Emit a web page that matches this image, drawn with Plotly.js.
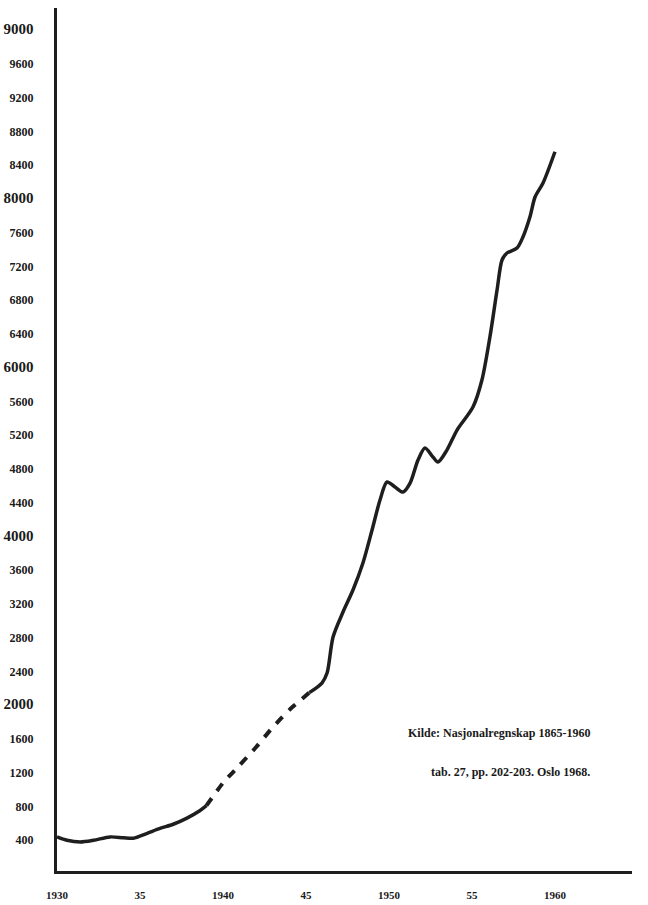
<!DOCTYPE html>
<html>
<head>
<meta charset="utf-8">
<script src="https://cdn.plot.ly/plotly-3.0.1.min.js"></script>
<style>html,body{margin:0;padding:0;background:#fff}#chart{width:648px;height:905px}</style>
</head>
<body>
<div id="chart"></div>
<script>
// Solid segment before the war
const yearsPre = [1930, 1930.6, 1931.4, 1932.2, 1933.2, 1934.0, 1934.6, 1935.4, 1936.2, 1937.0, 1937.8, 1938.6, 1939.0];
const valuesPre = [440, 400, 380, 400, 440, 430, 425, 480, 540, 590, 660, 750, 810];
// Dashed (interpolated war years) segment
const yearsWar = [1939.0, 1940.0, 1941.0, 1942.0, 1943.0, 1944.0, 1945.2];
const valuesWar = [810, 1080, 1290, 1505, 1740, 1945, 2150];
// Solid post-war segment
const yearsPost = [1945.2, 1945.96, 1946.27, 1946.63, 1947.23, 1947.83, 1948.43, 1948.98, 1949.46, 1949.88, 1950.36, 1950.84, 1951.27, 1951.75, 1952.17, 1952.65, 1952.95, 1953.49, 1954.10, 1955.06, 1955.60, 1956.08, 1956.51, 1956.81, 1957.11, 1957.71, 1958.07, 1958.49, 1958.80, 1959.28, 1960.0];
const valuesPost = [2150, 2264, 2382, 2809, 3105, 3366, 3686, 4077, 4433, 4646, 4587, 4527, 4634, 4907, 5049, 4942, 4883, 5025, 5262, 5535, 5855, 6364, 6921, 7277, 7360, 7419, 7550, 7787, 8024, 8190, 8560];

const yTickVals = [400,800,1200,1600,2000,2400,2800,3200,3600,4000,4400,4800,5200,5600,6000,6400,6800,7200,7600,8000,8400,8800,9200,9600,10000];
const yTickLabels = ['400','800','1200','1600','2000','2400','2800','3200','3600','4000','4400','4800','5200','5600','6000','6400','6800','7200','7600','8000','8400','8800','9200','9600','9000'];
const xTickVals = [1930,1935,1940,1945,1950,1955,1960];
const xTickLabels = ['1930','35','1940','45','1950','55','1960'];
const sourceLines = ['Kilde: Nasjonalregnskap 1865-1960', 'tab. 27, pp. 202-203. Oslo 1968.'];

const yTickText = yTickLabels.map((t, i) => yTickVals[i] % 2000 === 0
  ? '<span style="font-size:15px">' + t + '</span>' : t);

const lineColor = '#1e1e1e';
const traces = [
  {x: yearsPre, y: valuesPre, mode: 'lines', line: {color: lineColor, width: 3.5, shape: 'spline', smoothing: 0.8}},
  {x: yearsWar, y: valuesWar, mode: 'lines', line: {color: lineColor, width: 4, dash: '9px,9px', shape: 'spline', smoothing: 0.5}},
  {x: yearsPost, y: valuesPost, mode: 'lines', line: {color: lineColor, width: 3.5, shape: 'spline', smoothing: 0.8}}
];

const fnt = {family: '"Liberation Serif", "DejaVu Serif", serif', size: 12, color: '#1a1a1a', weight: 'bold'};
const xfnt = Object.assign({}, fnt, {size: 11});

const layout = {
  width: 648, height: 905,
  margin: {l: 57, r: 16, t: 8, b: 34},
  paper_bgcolor: '#ffffff', plot_bgcolor: '#ffffff',
  showlegend: false,
  font: fnt,
  xaxis: {
    range: [1930, 1964.64], tickmode: 'array', tickvals: xTickVals, ticktext: xTickLabels,
    showgrid: false, zeroline: false, showline: true, linecolor: lineColor, linewidth: 3,
    ticks: '', ticklabelstandoff: 12, tickfont: xfnt, fixedrange: true
  },
  yaxis: {
    range: [36, 10264], tickmode: 'array', tickvals: yTickVals, ticktext: yTickText,
    showgrid: false, zeroline: false, showline: true, linecolor: lineColor, linewidth: 3,
    ticks: '', ticklabelstandoff: 18, tickfont: fnt, fixedrange: true
  },
  annotations: [
    {xref: 'paper', yref: 'paper', x: 0.93, y: 0.160, xanchor: 'right', yanchor: 'middle', showarrow: false, text: sourceLines[0], font: fnt},
    {xref: 'paper', yref: 'paper', x: 0.93, y: 0.1147, xanchor: 'right', yanchor: 'middle', showarrow: false, text: sourceLines[1], font: fnt}
  ]
};

Plotly.newPlot('chart', traces, layout, {displayModeBar: false, staticPlot: true});
</script>
</body>
</html>
